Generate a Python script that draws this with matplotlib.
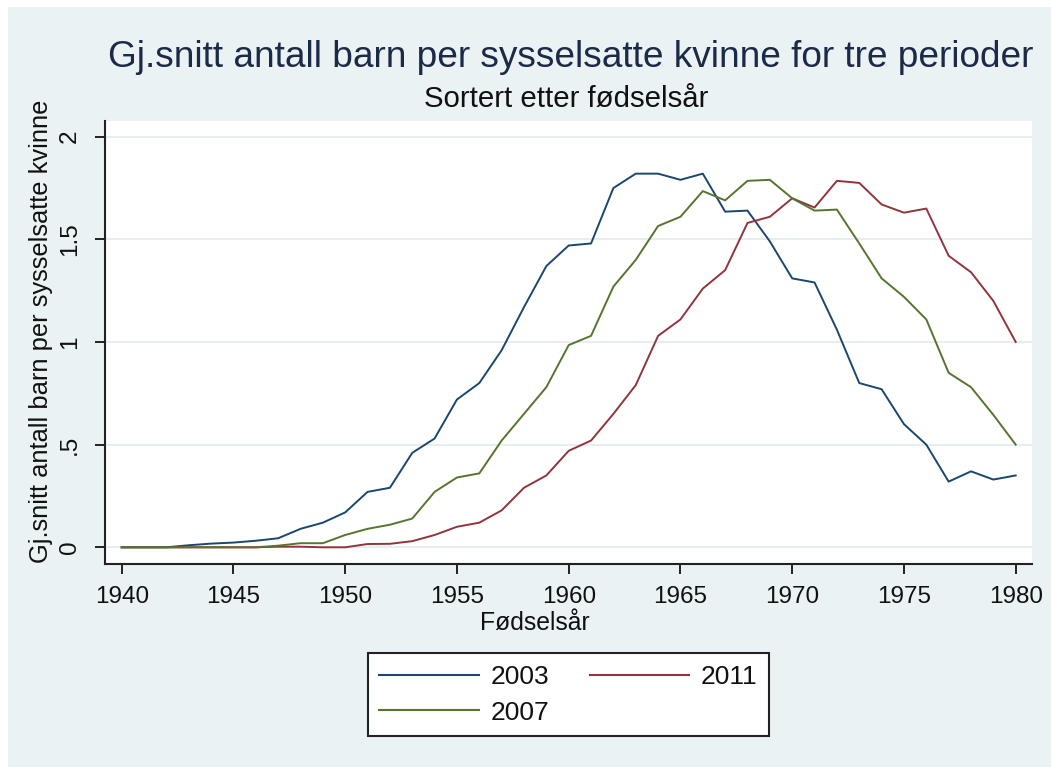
import matplotlib
matplotlib.use("Agg")
import matplotlib.pyplot as plt
from matplotlib.patches import Rectangle

# ---------------- data ----------------
years = list(range(1940, 1981))
y2003 = [0, 0, 0, 0.01, 0.018, 0.023, 0.032, 0.044, 0.09, 0.12,
         0.17, 0.27, 0.29, 0.46, 0.53, 0.72, 0.80, 0.96, 1.17, 1.37,
         1.47, 1.48, 1.75, 1.82, 1.82, 1.79, 1.82, 1.635, 1.64, 1.49,
         1.31, 1.29, 1.06, 0.80, 0.77, 0.60, 0.50, 0.32, 0.37, 0.33,
         0.35]
y2007 = [0, 0, 0, 0, 0, 0, 0, 0.008, 0.02, 0.02,
         0.06, 0.09, 0.11, 0.14, 0.27, 0.34, 0.36, 0.52, 0.65, 0.78,
         0.985, 1.03, 1.27, 1.40, 1.565, 1.61, 1.735, 1.69, 1.785, 1.79,
         1.70, 1.64, 1.645, 1.48, 1.31, 1.22, 1.11, 0.85, 0.78, 0.645,
         0.50]
y2011 = [0, 0, 0, 0, 0, 0, 0, 0.003, 0.003, 0.0,
         0.0, 0.016, 0.017, 0.03, 0.06, 0.10, 0.12, 0.18, 0.29, 0.35,
         0.47, 0.52, 0.65, 0.79, 1.03, 1.11, 1.26, 1.35, 1.58, 1.61,
         1.70, 1.655, 1.785, 1.775, 1.67, 1.63, 1.65, 1.42, 1.34, 1.20,
         1.00]
series_labels = ["2003", "2011", "2007"]
xticks = [1940, 1945, 1950, 1955, 1960, 1965, 1970, 1975, 1980]
yticks = [0, 0.5, 1, 1.5, 2]
ytick_labels = ["0", ".5", "1", "1.5", "2"]
title = "Gj.snitt antall barn per sysselsatte kvinne for tre perioder"
subtitle = "Sortert etter fødselsår"
xlabel = "Fødselsår"
ylabel = "Gj.snitt antall barn per sysselsatte kvinne"

# ---------------- style ----------------
W, H = 1051, 767
BG = "#EAF2F3"
GRID = "#E4EDEF"
C2003 = "#1A476F"
C2011 = "#90353B"
C2007 = "#55752F"
TXT = "#111111"
TITLE_C = "#1C2A48"
plt.rcParams["font.family"] = ["Liberation Sans", "DejaVu Sans"]

fig = plt.figure(figsize=(W / 100, H / 100), dpi=100)
fig.patch.set_facecolor("white")
fig.patches.append(Rectangle((8 / W, 0), 1 - 8 / W, 1 - 7 / H,
                             transform=fig.transFigure, facecolor=BG,
                             edgecolor="none", zorder=-10))

ax = fig.add_axes([105 / W, 1 - 564 / H, 927 / W, 443 / H])
ax.set_facecolor("white")

h03, = ax.plot(years, y2003, color=C2003, lw=1.4, label=series_labels[0], zorder=3)
h11, = ax.plot(years, y2011, color=C2011, lw=1.4, label=series_labels[1], zorder=3)
h07, = ax.plot(years, y2007, color=C2007, lw=1.4, label=series_labels[2], zorder=3)

ax.set_xlim(1939.253, 1980.729)
ax.set_ylim(-0.0813, 2.0765)
ax.set_xticks(xticks)
ax.set_yticks(yticks)
ax.set_yticklabels(ytick_labels)
for y in yticks:
    ax.axhline(y, color=GRID, lw=1.3, zorder=1)

for s in ["top", "right"]:
    ax.spines[s].set_visible(False)
for s in ["left", "bottom"]:
    ax.spines[s].set_linewidth(1.5)
    ax.spines[s].set_color("#222222")

ax.tick_params(axis="both", direction="out", length=7.5, width=1.4,
               color="#222222", labelcolor=TXT, labelsize=17.5)
ax.tick_params(axis="x", pad=8)
ax.tick_params(axis="y", pad=10)
for lab in ax.get_yticklabels():
    lab.set_rotation(90)
    lab.set_va("center")
    lab.set_ha("right")

t_title = fig.text(571 / W, 1 - 67 / H, title, ha="center", va="baseline",
                   color=TITLE_C, fontsize=24)
t_sub = fig.text(565.8 / W, 1 - 107 / H, subtitle, ha="center", va="baseline",
                 color=TXT, fontsize=18)
t_xl = fig.text(535 / W, 1 - 630 / H, xlabel, ha="center", va="baseline",
                color=TXT, fontsize=17)
t_yl = fig.text(41.5 / W, 1 - 331.5 / H, ylabel, ha="center", va="center",
                rotation=90, color=TXT, fontsize=17)

renderer = fig.canvas.get_renderer()


def fit(t, target, use_height=False):
    bb = t.get_window_extent(renderer)
    cur = bb.height if use_height else bb.width
    t.set_fontsize(t.get_fontsize() * target / cur)


fit(t_title, 925)
fit(t_sub, 284)
fit(t_xl, 110)
fit(t_yl, 465, use_height=True)

leg = fig.legend(handles=[h03, h07, h11], labels=["2003", "2007", "2011"],
                 ncol=2, loc="center",
                 bbox_to_anchor=(568.4 / W, 1 - 694.7 / H),
                 bbox_transform=fig.transFigure,
                 fontsize=19, handlelength=3.76, handletextpad=0.45,
                 columnspacing=1.54, borderpad=0.44, labelspacing=0.45,
                 fancybox=False, framealpha=1, facecolor="white",
                 edgecolor="#222222")
leg.get_frame().set_linewidth(1.5)
for l in leg.get_lines():
    l.set_linewidth(1.5)
for t in leg.get_texts():
    t.set_color(TXT)

fig.savefig("out.png", dpi=100, facecolor=fig.get_facecolor())
